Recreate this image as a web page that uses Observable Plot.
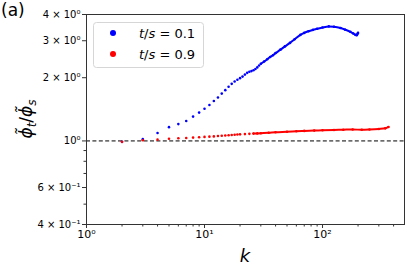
<!DOCTYPE html>
<html><head><meta charset="utf-8">
<script src="https://cdn.jsdelivr.net/npm/d3@7"></script>
<script src="https://cdn.jsdelivr.net/npm/@observablehq/plot@0.6"></script>
<style>body{margin:0;background:#fff} svg{font-family:"DejaVu Sans",sans-serif}</style>
</head><body><div id="chart"></div>
<script>
// series t/s = 0.1 (blue)
const blueK = [2,3,4,5,6,7,8,9,10,11,12,13,14,15,16,17,18,19,20,21,22,23,24,25,26,27,28,29,30,32,34,36,38,40,44,48,53,58,65,70,76,83,90,100,113,125,142,155,172,182,190,195,198,200];
const blueV = [0.99,1.02,1.09,1.163,1.203,1.245,1.306,1.364,1.423,1.482,1.55,1.61,1.68,1.745,1.81,1.87,1.92,1.955,1.99,2.025,2.07,2.11,2.135,2.15,2.17,2.2,2.24,2.285,2.33,2.39,2.45,2.51,2.56,2.62,2.72,2.82,2.93,3.05,3.2,3.27,3.33,3.38,3.42,3.47,3.51,3.5,3.45,3.39,3.31,3.25,3.2,3.19,3.24,3.27];
// series t/s = 0.9 (red)
const redK = [2,3,4,5,6,7,8,9,10,11,12,13,14,15,16,17,18,19,20,22,24,26,28,30,35,40,50,60,70,85,100,125,150,180,215,250,300,340,362];
const redV = [0.99,1.008,1.014,1.025,1.03,1.033,1.037,1.041,1.045,1.048,1.051,1.055,1.058,1.062,1.065,1.068,1.07,1.073,1.075,1.078,1.081,1.084,1.086,1.088,1.094,1.1,1.106,1.112,1.116,1.12,1.124,1.128,1.131,1.134,1.13,1.133,1.14,1.148,1.166];

const seriesLabels = [["t","/","s"," = 0.1"],["t","/","s"," = 0.9"]];
const seriesColors = ["#0000ff","#ff0000"];
const refLine = [1];

const yMajor = [0.4,0.6,1,2,3,4];
const yMajorLabels = ["4 × 10⁻¹","6 × 10⁻¹","10⁰","2 × 10⁰","3 × 10⁰","4 × 10⁰"];
const yMinor = [0.5,0.7,0.8,0.9];
const xMajor = [1,10,100];
const xMajorLabels = ["10⁰","10¹","10²"];
const xMinor = [2,3,4,5,6,7,8,9,20,30,40,50,60,70,80,90,200,300,400];

const blue = blueK.map((k,i)=>({k, v: blueV[i]}));
const red = redK.map((k,i)=>({k, v: redV[i]}));

const svg = Plot.plot({
  width: 415, height: 277,
  marginLeft: 86, marginRight: 11, marginTop: 14, marginBottom: 53,
  x: {type: "log", domain: [1, 495], label: null},
  y: {type: "log", domain: [0.4, 4], label: null},
  style: {fontFamily: "DejaVu Sans", fontSize: "10px", color: "#000", background: "#fff"},
  marks: [
    Plot.ruleY(refLine, {stroke: "#000", strokeWidth: 1, strokeDasharray: "4,2.4"}),
    Plot.line(blue.filter(d => d.k >= 30), {x: "k", y: "v", stroke: seriesColors[0], strokeWidth: 2, curve: "monotone-x"}),
    Plot.dot(blue, {x: "k", y: "v", r: 1.3, fill: seriesColors[0], stroke: null}),
    Plot.line(red.filter(d => d.k >= 26), {x: "k", y: "v", stroke: seriesColors[1], strokeWidth: 2, curve: "monotone-x"}),
    Plot.dot(red, {x: "k", y: "v", r: 1.3, fill: seriesColors[1], stroke: null}),
    Plot.axisX(xMajor, {tickSize: 4, tickPadding: 2, stroke: "#333", label: null,
      tickFormat: d => xMajorLabels[xMajor.indexOf(d)], fontSize: 11}),
    Plot.axisX(xMinor, {tickSize: 2.5, stroke: "#333", label: null, tickFormat: () => ""}),
    Plot.axisY(yMajor, {tickSize: 4, tickPadding: 2, stroke: "#333", label: null,
      tickFormat: d => yMajorLabels[yMajor.indexOf(d)], fontSize: 10}),
    Plot.axisY(yMinor, {tickSize: 2.5, stroke: "#333", label: null, tickFormat: () => ""}),
    Plot.frame({stroke: "#333", strokeWidth: 1})
  ]
});
document.getElementById("chart").appendChild(svg);

const s = d3.select(svg);
// panel tag
s.append("text").attr("x", 1).attr("y", 16).attr("text-anchor", "start")
  .attr("font-size", 17).attr("fill", "#000").text("(a)");
// x label
s.append("text").attr("x", 245).attr("y", 262).attr("text-anchor", "middle")
  .attr("font-size", 18).attr("font-style", "italic").attr("fill", "#000").text("k");
// y label
const yl = s.append("text").attr("transform", "translate(32,119) rotate(-90)")
  .attr("text-anchor", "middle").attr("font-size", 17).attr("fill", "#000");
yl.append("tspan").attr("font-style", "italic").text("ϕ\u0303");
yl.append("tspan").attr("font-style", "italic").attr("font-size", 12).attr("dy", 4).text("t");
yl.append("tspan").attr("dy", -4).text("/");
yl.append("tspan").attr("font-style", "italic").text("ϕ\u0303");
yl.append("tspan").attr("font-style", "italic").attr("font-size", 12).attr("dy", 4).text("s");

// legend
const lg = s.append("g");
lg.append("rect").attr("x", 93.5).attr("y", 22.5).attr("width", 110).attr("height", 45)
  .attr("rx", 3).attr("fill", "#fff").attr("fill-opacity", 0.8).attr("stroke", "#d6d6d6");
seriesLabels.forEach((lab, i) => {
  const cy = 33 + i * 21;
  lg.append("circle").attr("cx", 113).attr("cy", cy).attr("r", 3).attr("fill", seriesColors[i]);
  const t = lg.append("text").attr("x", 139).attr("y", cy + 5).attr("text-anchor", "start")
    .attr("font-size", 13).attr("fill", "#000");
  t.append("tspan").attr("font-style", "italic").text(lab[0]);
  t.append("tspan").text(lab[1]);
  t.append("tspan").attr("font-style", "italic").text(lab[2]);
  t.append("tspan").text(lab[3]);
});
</script></body></html>
